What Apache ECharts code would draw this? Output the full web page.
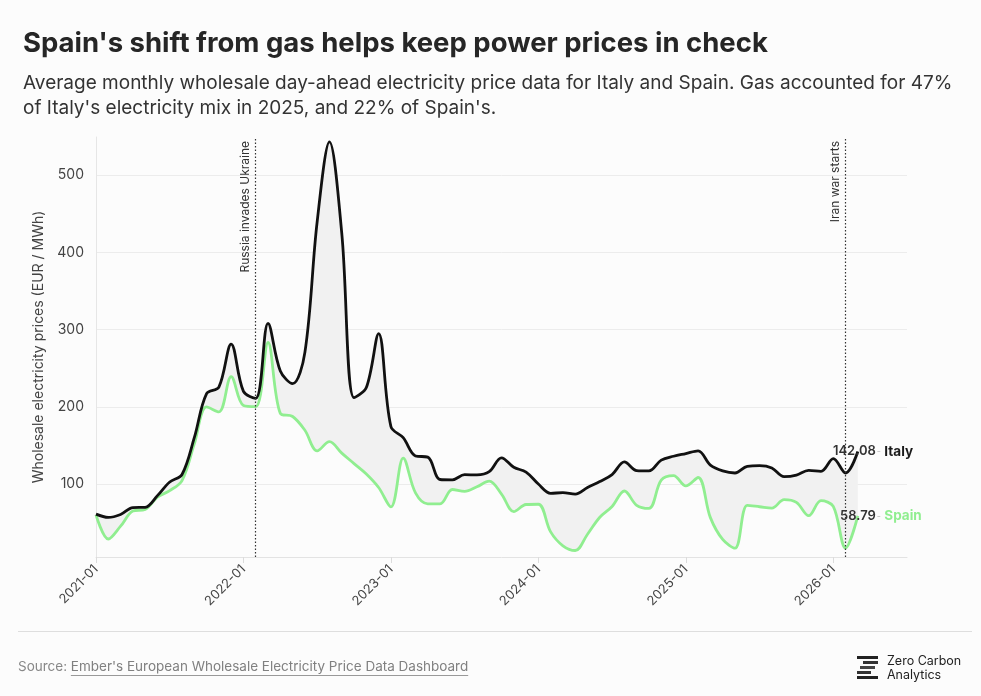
<!DOCTYPE html>
<html><head><meta charset="utf-8">
<script src="https://cdn.jsdelivr.net/npm/echarts@6/dist/echarts.min.js"></script>
<style>html,body{margin:0;padding:0;background:#fcfcfc}#c{width:981px;height:696px}</style>
</head><body><div id="c"></div>
<script>
// ---- data ----
const months = [
 '2021-01','2021-02','2021-03','2021-04','2021-05','2021-06','2021-07','2021-08','2021-09','2021-10','2021-11','2021-12',
 '2022-01','2022-02','2022-03','2022-04','2022-05','2022-06','2022-07','2022-08','2022-09','2022-10','2022-11','2022-12',
 '2023-01','2023-02','2023-03','2023-04','2023-05','2023-06','2023-07','2023-08','2023-09','2023-10','2023-11','2023-12',
 '2024-01','2024-02','2024-03','2024-04','2024-05','2024-06','2024-07','2024-08','2024-09','2024-10','2024-11','2024-12',
 '2025-01','2025-02','2025-03','2025-04','2025-05','2025-06','2025-07','2025-08','2025-09','2025-10','2025-11','2025-12',
 '2026-01','2026-02','2026-03'];
// empty axis months after the data (right margin of the plot)
const axisPadMonths = ['2026-04','2026-05','2026-06','2026-07'];
const italy = [
 61.0, 56.8, 60.6, 69.5, 69.9, 85.0, 102.7, 112.4, 160.0, 217.0, 225.5, 281.2,
 220.0, 211.0, 308.0, 246.5, 230.0, 270.5, 440.0, 543.2, 425.0, 212.0, 225.0, 294.9,
 174.5, 160.0, 136.4, 134.9, 105.9, 105.5, 112.1, 111.9, 116.0, 134.0, 121.7, 115.5,
 100.0, 88.0, 88.8, 87.0, 95.5, 103.2, 112.3, 128.6, 117.4, 117.0, 131.0, 136.0,
 139.5, 143.0, 124.5, 117.0, 114.3, 123.0, 123.8, 120.8, 109.5, 111.5, 117.7, 116.5,
 133.0, 114.3, 142.08];
const spain = [
 60.2, 28.8, 45.4, 65.0, 67.1, 83.0, 91.5, 104.5, 152.0, 199.9, 193.4, 239.0,
 201.7, 200.2, 283.3, 191.5, 187.5, 169.6, 143.0, 154.9, 140.0, 126.5, 113.0, 95.5,
 70.3, 133.5, 88.5, 74.3, 74.3, 92.9, 90.5, 96.5, 103.8, 87.0, 64.3, 73.5,
 73.8, 38.0, 20.0, 13.9, 35.0, 57.0, 71.0, 91.0, 72.5, 68.5, 105.0, 110.8,
 97.5, 108.5, 56.5, 28.2, 17.0, 72.3, 70.6, 68.8, 79.7, 76.2, 59.0, 78.4,
 71.0, 17.0, 58.79];
const yTicks = [100, 200, 300, 400, 500];
const xTickLabels = ['2021-01','2022-01','2023-01','2024-01','2025-01','2026-01'];
const eventMonths = ['2022-02', '2026-02'];
const eventLabels = ['Russia invades Ukraine', 'Iran war starts'];

// ---- chart ----
const FONT = 'Inter, "Noto Sans", sans-serif';
const axisMonths = months.concat(axisPadMonths);
const last = months.length - 1;
const SMOOTH = 0.35;

const chart = echarts.init(document.getElementById('c'), null, {renderer: 'canvas'});

function endLabelPoints(name, arr, nameColor) {
  const v = arr[last];
  return {
    symbol: 'circle', symbolSize: 1, silent: true,
    itemStyle: {color: 'rgba(0,0,0,0)'},
    data: [
      {coord: [months[last], v], value: v,
       label: {show: true, position: 'inside', align: 'right', offset: [18, 0],
         formatter: p => Number(p.value).toFixed(2),
         fontFamily: FONT, fontSize: 13, fontWeight: 600, color: '#333'}},
      {coord: [months[last], v], value: v,
       label: {show: true, position: 'inside', align: 'left', offset: [19, 0],
         formatter: '{d|-} {n|' + name + '}',
         rich: {
           d: {fontFamily: FONT, fontSize: 9, color: '#bbb'},
           n: {fontFamily: FONT, fontSize: 13.5, fontWeight: 700, color: nameColor}
         }}}
    ]
  };
}

// measure link width for underline
const SRC_FONT = '13.5px ' + FONT;
const mctx = document.createElement('canvas').getContext('2d');
mctx.font = SRC_FONT;
const srcPrefix = 'Source: ';
const srcLink = "Ember's European Wholesale Electricity Price Data Dashboard";
const prefixW = mctx.measureText(srcPrefix).width;
const linkW = mctx.measureText(srcLink).width;

const isTick = (i, v) => xTickLabels.indexOf(v) >= 0;

const option = {
  backgroundColor: '#fcfcfc',
  animation: false,
  title: [
    {text: "Spain's shift from gas helps keep power prices in check", left: 18, top: 25,
     textStyle: {fontFamily: FONT, fontSize: 27.5, fontWeight: 700, color: '#262626'}},
    {text: "Average monthly wholesale day-ahead electricity price data for Italy and Spain. Gas accounted for 47%\nof Italy's electricity mix in 2025, and 22% of Spain's.",
     left: 18, top: 66,
     textStyle: {fontFamily: FONT, fontSize: 19, fontWeight: 400, color: '#333', lineHeight: 25}}
  ],
  grid: {left: 96, right: 74, top: 137, bottom: 139},
  xAxis: {
    type: 'category', data: axisMonths, boundaryGap: false,
    axisLine: {show: true, lineStyle: {color: '#e3e3e3'}},
    axisTick: {show: true, length: 6, interval: isTick, lineStyle: {color: '#dcdcdc'}},
    splitLine: {show: false},
    axisLabel: {interval: isTick, rotate: 45, margin: 10, fontFamily: FONT, fontSize: 13, color: '#444'}
  },
  yAxis: {
    type: 'value', min: 5.5, max: 549.5,
    name: 'Wholesale electricity prices (EUR / MWh)', nameLocation: 'middle', nameGap: 50,
    nameTextStyle: {fontFamily: FONT, fontSize: 14, color: '#444'},
    axisLine: {show: true, lineStyle: {color: '#e6e6e6'}},
    axisTick: {show: false},
    splitLine: {show: true, showMinLine: false, showMaxLine: false, lineStyle: {color: '#ececec'}},
    axisLabel: {
      margin: 12, fontFamily: FONT, fontSize: 14, color: '#444',
      formatter: v => yTicks.indexOf(v) >= 0 ? String(v) : ''
    }
  },
  series: [
    {name: 'bandBase', type: 'line', stack: 'band', data: spain, smooth: SMOOTH,
     symbol: 'none', lineStyle: {opacity: 0}, silent: true, z: 1},
    {name: 'bandDiff', type: 'line', stack: 'band', data: italy.map((v, i) => v - spain[i]), smooth: SMOOTH,
     symbol: 'none', lineStyle: {opacity: 0}, areaStyle: {color: '#f1f1f1', opacity: 1}, silent: true, z: 1},
    {name: 'Spain', type: 'line', data: spain, smooth: SMOOTH, symbol: 'none',
     lineStyle: {color: '#90ee90', width: 2.8}, z: 3,
     markPoint: endLabelPoints('Spain', spain, '#90ee90')},
    {name: 'Italy', type: 'line', data: italy, smooth: SMOOTH, symbol: 'none',
     lineStyle: {color: '#111', width: 2.8}, z: 4,
     markPoint: endLabelPoints('Italy', italy, '#1a1a1a'),
     markLine: {
       symbol: 'none', silent: true, animation: false,
       lineStyle: {type: [1.5, 2], color: '#333', width: 1.2},
       label: {show: true, position: 'insideEndTop', formatter: '{b}', distance: 4,
               fontFamily: FONT, fontSize: 12, color: '#333'},
       data: eventMonths.map((m, i) => ({xAxis: m, name: eventLabels[i]}))
     }}
  ],
  graphic: [
    {type: 'line', shape: {x1: 18, y1: 631.5, x2: 972, y2: 631.5}, style: {stroke: '#dedede', lineWidth: 1}},
    {type: 'text', x: 18, y: 667, style: {text: srcPrefix, font: SRC_FONT, fill: '#888', verticalAlign: 'middle'}},
    {type: 'text', x: 18 + prefixW, y: 667, style: {text: srcLink, font: SRC_FONT, fill: '#808080', verticalAlign: 'middle'}},
    {type: 'line', shape: {x1: 18 + prefixW, y1: 675.5, x2: 18 + prefixW + linkW, y2: 675.5}, style: {stroke: '#999', lineWidth: 1}},
    // logo
    {type: 'rect', shape: {x: 857, y: 656, width: 21, height: 3}, style: {fill: '#222'}},
    {type: 'rect', shape: {x: 863, y: 661, width: 15, height: 3}, style: {fill: '#333'}},
    {type: 'rect', shape: {x: 860, y: 666, width: 15, height: 3}, style: {fill: '#444'}},
    {type: 'rect', shape: {x: 857, y: 671, width: 14, height: 3}, style: {fill: '#333'}},
    {type: 'rect', shape: {x: 857, y: 676, width: 21, height: 3}, style: {fill: '#222'}},
    {type: 'text', x: 887, y: 661, style: {text: 'Zero Carbon', font: '12.5px ' + FONT, fill: '#222', verticalAlign: 'middle'}},
    {type: 'text', x: 887, y: 675, style: {text: 'Analytics', font: '12.5px ' + FONT, fill: '#222', verticalAlign: 'middle'}}
  ]
};
chart.setOption(option);
</script>
</body></html>
